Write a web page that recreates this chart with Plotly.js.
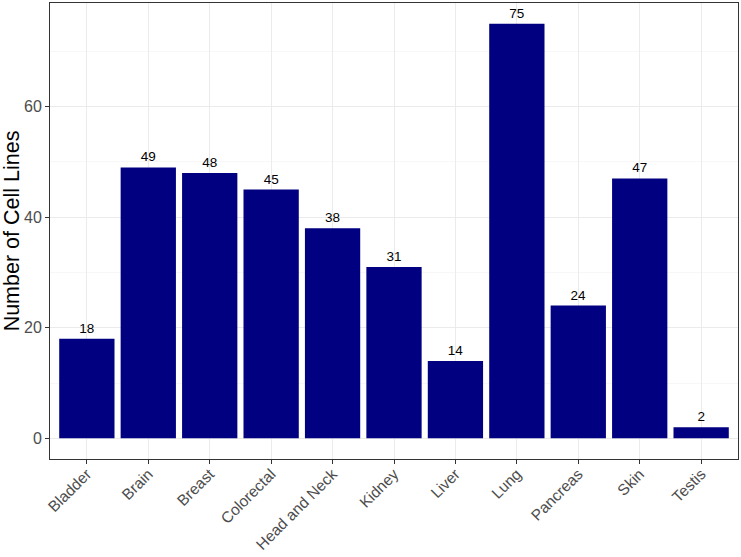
<!DOCTYPE html>
<html>
<head>
<meta charset="utf-8">
<script src="https://cdn.plot.ly/plotly-3.0.1.min.js"></script>
<style>html,body{margin:0;padding:0;background:#fff;}#chart{width:741px;height:557px;}</style>
</head>
<body>
<div id="chart"></div>
<script>
const categories = ["Bladder","Brain","Breast","Colorectal","Head and Neck","Kidney","Liver","Lung","Pancreas","Skin","Testis"];
const cellLines = [18,49,48,45,38,31,14,75,24,47,2];
const yTickValues = [0,20,40,60];

const trace = {
  type: "bar",
  x: categories,
  y: cellLines,
  width: 0.9,
  marker: {color: "#000080", line: {width: 0}},
  text: cellLines.map(String),
  textposition: "outside",
  textfont: {family: "Liberation Sans, Arial, sans-serif", size: 13.5, color: "#000000"},
  cliponaxis: false,
  hoverinfo: "x+y"
};

const layout = {
  width: 741,
  height: 557,
  margin: {l: 50, r: 2.5, t: 2.5, b: 98},
  paper_bgcolor: "#ffffff",
  plot_bgcolor: "#ffffff",
  showlegend: false,
  bargap: 0.1,
  font: {family: "Liberation Sans, Arial, sans-serif"},
  xaxis: {
    type: "category",
    range: [-0.6, 10.6],
    tickangle: -45,
    tickfont: {size: 15.5, color: "#4D4D4D"},
    ticklabelstandoff: -5,
    ticks: "outside",
    ticklen: 4,
    tickcolor: "#333333",
    tickwidth: 1,
    showgrid: true,
    gridcolor: "#EBEBEB",
    gridwidth: 1,
    showline: true,
    mirror: true,
    linecolor: "#333333",
    linewidth: 1,
    zeroline: false,
    fixedrange: true
  },
  yaxis: {
    range: [-3.75, 78.75],
    tickvals: yTickValues,
    ticktext: yTickValues.map(String),
    tickfont: {size: 16, color: "#4D4D4D"},
    ticks: "outside",
    ticklen: 4,
    tickcolor: "#333333",
    tickwidth: 1,
    showgrid: true,
    gridcolor: "#EBEBEB",
    gridwidth: 1,
    minor: {dtick: 10, tick0: 0, showgrid: true, gridcolor: "#F2F2F2", gridwidth: 0.6, ticks: ""},
    showline: true,
    mirror: true,
    linecolor: "#333333",
    linewidth: 1,
    zeroline: false,
    title: {text: "Number of Cell Lines", font: {size: 21.5, color: "#000000"}, standoff: 4},
    automargin: false,
    fixedrange: true
  }
};

Plotly.newPlot("chart", [trace], layout, {displayModeBar: false, staticPlot: true});
</script>
</body>
</html>
